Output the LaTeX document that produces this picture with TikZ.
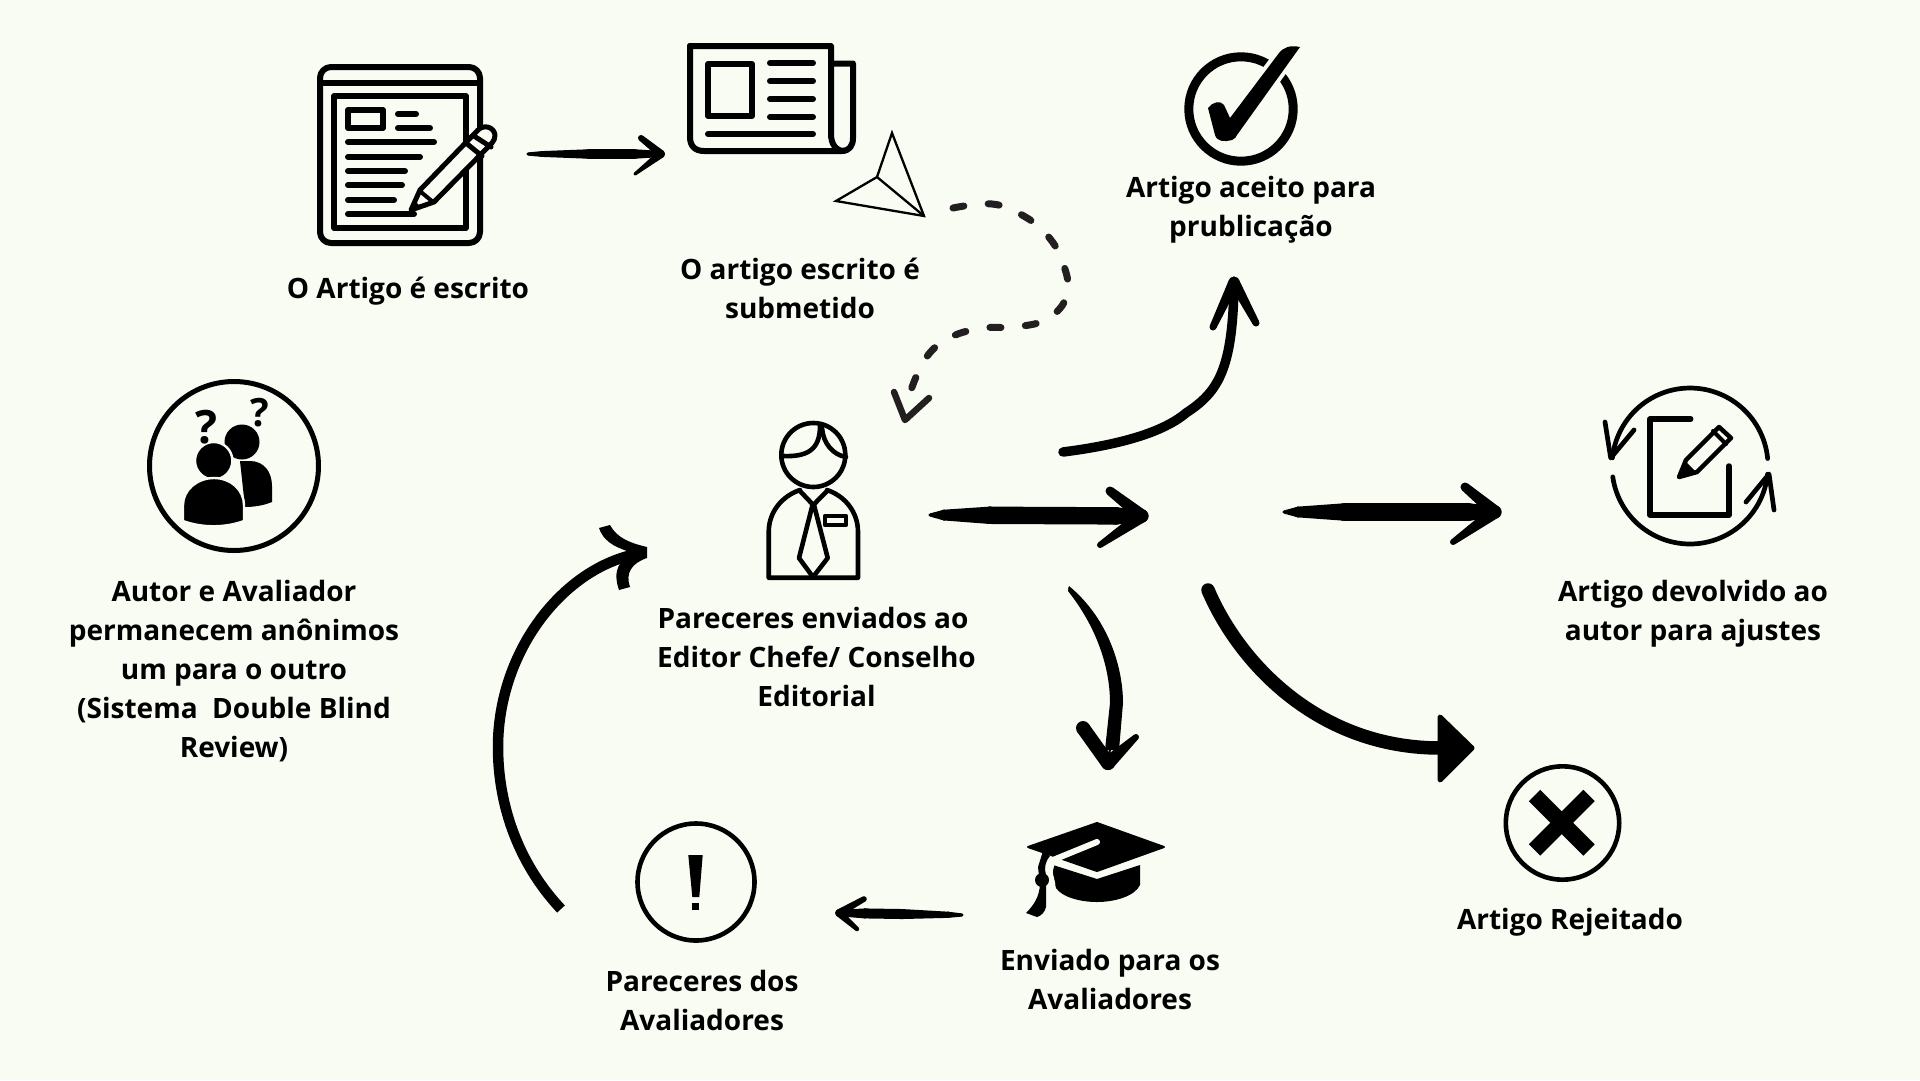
\documentclass[tikz,border=0pt]{standalone}
\usepackage{fontspec}
\setmainfont{Open Sans}
\usetikzlibrary{calc}
\definecolor{bgc}{HTML}{F8FCF3}
\definecolor{dashc}{HTML}{231F20}
\newcommand{\brushseg}[4]{%
  \fill[black] ($(#1)!#3pt!90:(#2)$) -- ($(#2)!#4pt!-90:(#1)$) -- ($(#2)!#4pt!90:(#1)$) -- ($(#1)!#3pt!-90:(#2)$) -- cycle;
  \fill[black] (#1) circle (#3pt);
  \fill[black] (#2) circle (#4pt);
}
% tapered straight shaft: start, end, full half-width
\newcommand{\brushshaft}[3]{%
  \brushseg{#1}{$(#1)!14pt!(#2)$}{1.6}{0.62*#3}
  \brushseg{$(#1)!14pt!(#2)$}{$(#1)!60pt!(#2)$}{0.62*#3}{#3}
  \brushseg{$(#1)!60pt!(#2)$}{$(#2)!26pt!(#1)$}{#3}{#3}
  \brushseg{$(#2)!26pt!(#1)$}{#2}{#3}{0.65*#3}
}
\tikzset{
  lab/.style={align=center,text=black,inner sep=0pt,font=\fontsize{28}{39}\bfseries\selectfont},
  icon/.style={draw=black,line cap=round,line join=round},
  thinlink/.style={draw=black,line width=2pt},
  curvelink/.style={draw=black,line cap=round,line join=round},
}
\begin{document}
\begin{tikzpicture}[x=1pt,y=-1pt]
\useasboundingbox (0,0) rectangle (1920,1080);
\fill[bgc] (0,0) rectangle (1920,1080);

% ---------- labels
\node[lab] (tEscrito) at (408,291) {O Artigo é escrito};
\node[lab] (tSubmetido) at (800,288) {O artigo escrito é\\submetido};
\node[lab] (tAceito) at (1251,210) {Artigo aceito para\\prublicação};
\node[lab] (tAnon) at (234,671.5) {Autor e Avaliador\\permanecem anônimos\\um para o outro\hspace*{9pt}\\(Sistema\ \ Double Blind\\Review)};
\node[lab] (tEditor) at (816.5,657) {Pareceres enviados ao\hspace*{7pt}\\Editor Chefe/ Conselho\\Editorial};
\node[lab] (tDevolvido) at (1693,613.5) {Artigo devolvido ao\\autor para ajustes};
\node[lab] (tRejeitado) at (1570,922) {Artigo Rejeitado};
\node[lab] (tEnviado) at (1110,979) {Enviado para os\\Avaliadores};
\node[lab] (tPareceres) at (702,1000) {Pareceres dos\\Avaliadores};

% ---------- tablet icon
\draw[icon,line width=6pt,rounded corners=11pt] (320,67) rectangle (480,243);
\draw[icon,line width=6pt] (320,83) -- (480,83);
\draw[icon,line width=5.5pt] (334,96) rectangle (466,228);
\draw[icon,line width=6pt] (348,110) rectangle (383,128);
\foreach \xa/\xb/\yy in {398/416/114,398/430/128,348/434/142,348/420/157,348/405/171,348/402/185,348/394/200,348/414/214}
  \draw[icon,line width=6pt] (\xa,\yy) -- (\xb,\yy);
\filldraw[icon,fill=bgc,line width=5pt] (411,210) -- (420,190) -- (478,130) .. controls (484,124) and (494,127) .. (495,135) .. controls (495,138) and (494,141) .. (492,143) -- (434,202) -- cycle;
\draw[icon,line width=5pt] (466,143) -- (482,156);
\draw[icon,line width=5pt] (474,136) -- (491,147);
\draw[icon,line width=4pt] (421,192) -- (433,202);
\fill[black] (408,213) -- (414,200) -- (421,207) -- cycle;

% ---------- newspaper icon
\draw[icon,line width=6pt] (690,46) -- (831,46) -- (831,134) .. controls (831,144) and (836,151) .. (844,151);
\draw[icon,line width=6pt] (690,46) -- (690,137) .. controls (690,146) and (695,151) .. (704,151) -- (842,151) .. controls (849,151) and (853,146) .. (853,138) -- (853,63.5) -- (831,63.5);
\draw[icon,line width=6pt] (708,64) rectangle (752,116);
\foreach \yy in {63,81,99,117}
  \draw[icon,line width=6pt] (770,\yy) -- (813,\yy);
\draw[icon,line width=6pt] (708,134) -- (813,134);

% ---------- paper plane
\draw[icon,line width=2.3pt,line cap=butt,line join=miter] (892,133) -- (924,216) -- (836,201) -- (877,177) -- cycle;
\draw[icon,line width=2.3pt] (877,177) -- (924,216);

% ---------- check icon
\draw[black,line width=9pt] (1241,109) circle (52.2pt);
\path[draw=bgc,fill=black,line width=8pt,line join=round] (1300,47) .. controls (1290,45) and (1284,47) .. (1279,53) -- (1230,118) -- (1224,105) .. controls (1221,100) and (1212,102) .. (1208,108) -- (1215,135) .. controls (1217,142) and (1225,142) .. (1232,140) .. controls (1235,139) and (1236,137) .. (1237,135) -- cycle;
\path[fill=black] (1300,47) .. controls (1290,45) and (1284,47) .. (1279,53) -- (1230,118) -- (1224,105) .. controls (1221,100) and (1212,102) .. (1208,108) -- (1215,135) .. controls (1217,142) and (1225,142) .. (1232,140) .. controls (1235,139) and (1236,137) .. (1237,135) -- cycle;

% ---------- anonymous people icon
\draw[black,line width=5pt] (234,466) circle (84.5pt);
\fill[black] (242,442) circle (17.5pt);
\fill[black] (240,461) -- (250,461) .. controls (264,461) and (272,472) .. (272,486) -- (272,502) .. controls (265,505) and (255,507) .. (245,507) -- cycle;
\path[fill=black,draw=bgc,line width=2.4pt] (213.7,460.7) circle (18.7pt);
\path[fill=black,draw=bgc,line width=2.4pt] (183,521) -- (183,505) .. controls (183,490) and (197,478) .. (214,478) .. controls (231,478) and (244,490) .. (244,505) -- (244,521) .. controls (225,528) and (202,528) .. (183,521) -- cycle;
\node[inner sep=0pt,font=\fontsize{46}{46}\bfseries\selectfont] (qLeft) at (206,427) {?};
\node[inner sep=0pt,font=\fontsize{39}{39}\bfseries\selectfont] (qRight) at (260,413) {?};

% ---------- editor icon
\draw[icon,line width=4.6pt] (813.3,455) circle (32pt);
\draw[icon,line width=4.6pt] (783,456) .. controls (807,457) and (820,450) .. (820,426);
\draw[icon,line width=4.6pt] (822,428) .. controls (823,443) and (833,455) .. (846,457);
\draw[icon,line width=4.6pt] (800,490) .. controls (782,496) and (768.7,512) .. (768.7,532) -- (768.7,577.7) -- (858,577.7) -- (858,532) .. controls (858,512) and (845,496) .. (827,490);
\draw[icon,line width=4.6pt] (800,491) -- (813.3,505) -- (827,491);
\draw[icon,line width=4.6pt] (812.5,505) -- (799,558) -- (813,577) -- (827.7,558) -- (814,505);
\draw[icon,line width=4.4pt] (825,516) rectangle (846,525);

% ---------- returned icon
\draw[icon,line width=4.7pt] plot[domain=5.5:174,samples=60] ({1690+78*cos(\x)},{466-78*sin(\x)});
\draw[icon,line width=4.7pt] plot[domain=188:354,samples=60] ({1690+78*cos(\x)},{466-78*sin(\x)});
\draw[icon,line width=4.7pt] (1605,422) -- (1610.7,458) -- (1634,430);
\draw[icon,line width=4.7pt] (1774,510) -- (1769,474) -- (1746,502);
\draw[icon,line width=5.5pt] (1690.7,419) -- (1650,419) -- (1650,515) -- (1729,515) -- (1729,466);
\draw[icon,line width=4.5pt] (1679,477) -- (1686,460) -- (1719,427) -- (1731,438) -- (1697,472) -- cycle;
\fill[black] (1679,477) -- (1686,462) -- (1695,471) -- cycle;
\draw[icon,line width=4pt] (1713,431) -- (1726,444);

% ---------- rejected icon
\draw[black,line width=4.6pt] (1562.5,823) circle (56.7pt);
\draw[black,line width=16pt] (1534.5,795.5) -- (1589,850);
\draw[black,line width=16pt] (1589,795.5) -- (1534.5,850);

% ---------- cap icon
\fill[black,draw=black,line width=2pt,line join=round] (1097,823) -- (1164,847) -- (1097,871) -- (1028,847) -- cycle;
\fill[black] (1053,865) -- (1097,879) -- (1140,865) -- (1140,885) .. controls (1135,896) and (1115,902) .. (1097,902) .. controls (1080,902) and (1062,897) .. (1056,888) -- (1053,875) -- cycle;
\draw[bgc,line width=6pt,line cap=round] (1097,842) -- (1053,860);
\draw[bgc,line width=5pt] (1053,860) -- (1050,872) -- (1053,885);
\fill[black] (1043,851) -- (1050,856) .. controls (1045,862) and (1044,868) .. (1046,875) -- (1046,907) .. controls (1045,912) and (1041,916) .. (1037,917) -- (1026,913) .. controls (1034,905) and (1039,897) .. (1040,885) -- (1038,867) -- cycle;
\fill[black] (1042,880) circle (7pt);

% ---------- warning icon
\draw[black,line width=4.6pt] (696,882) circle (58.5pt);
\fill[black] (688.3,855) -- (702.7,855) -- (699.3,897) -- (692.3,897) -- cycle;
\fill[black] (692.3,902.7) rectangle (699.3,910);

% ---------- connector ends
\coordinate (c1s) at (528,154);
\coordinate (c1e) at (661,154);
\coordinate (c2s) at (930,515);
\coordinate (c2e) at (1142,516);
\coordinate (c3s) at (1284,512);
\coordinate (c3e) at (1495,512);
\coordinate (c4s) at (962,915);
\coordinate (c4e) at (839,913);
\coordinate (c5s) at (1063,452);
\coordinate (c5m) at (1186,413);
\coordinate (c5e) at (1234,282);
\coordinate (c6s) at (1069,588);
\coordinate (c6e) at (1108,763);
\coordinate (c7s) at (1208,590);
\coordinate (c7e) at (1440,748);
\coordinate (c8s) at (561,909);
\coordinate (c8m) at (498,747);
\coordinate (c8e) at (642,553);
\coordinate (d1) at (953,208);
\coordinate (d2) at (911,390);

% ---------- straight brush arrows
\draw[thinlink] (c1s) -- (c1e);
\brushshaft{c1s}{c1e}{4.7}
\brushseg{641,138}{c1e}{3}{4}
\brushseg{635,174}{c1e}{1.6}{4}

\draw[thinlink] (c2s) -- (c2e);
\brushshaft{c2s}{c2e}{8.7}
\brushseg{1110,491}{c2e}{4.5}{6.5}
\brushseg{1100,545}{c2e}{3}{6.5}

\draw[thinlink] (c3s) -- (c3e);
\brushshaft{c3s}{c3e}{8.7}
\brushseg{1465,487}{c3e}{4.5}{6.5}
\brushseg{1453,542}{c3e}{3}{6.5}

\draw[thinlink] (c4s) -- (c4e);
\brushshaft{c4s}{c4e}{5}
\brushseg{864,899}{c4e}{2.8}{3.8}
\brushseg{857,929}{c4e}{2.2}{3.8}

% ---------- curved arrow to accepted
\draw[curvelink,line width=9.5pt] (c5s) .. controls (1110,446) and (1160,435) .. (c5m) .. controls (1218,392) and (1233,370) .. (c5e);
\brushseg{1213,327}{c5e}{3.5}{5.5}
\brushseg{1256,323}{c5e}{3.5}{5.5}

% ---------- curved tapered arrow to reviewers
\draw[thinlink,line cap=round] (c6s) .. controls (1102,622) and (1117,665) .. (1116.5,703) -- (c6e);
\fill[black] (1069,586) .. controls (1110,620) and (1123,670) .. (1123,703) -- (1119,750) -- (1105,750) -- (1110,703) .. controls (1110,665) and (1095,625) .. (1068,591) -- cycle;
\brushseg{1083,728}{c6e}{7}{7}
\brushseg{1136,737}{c6e}{3}{7}

% ---------- curved arrow to rejected
\draw[curvelink,line width=13.5pt] (c7s) .. controls (1240,665) and (1320,748) .. (c7e);
\filldraw[black,line width=5pt,line join=round] (1440,717) -- (1472,748) -- (1440,780) -- cycle;

% ---------- arc back to editor
\draw[draw=black,line width=10.5pt] (c8s) .. controls (515,860) and (498,800) .. (c8m) .. controls (498,650) and (565,565) .. (c8e);
\fill[black] (599,528) -- (610,525) .. controls (617,538) and (630,543) .. (647,547) -- (647,558) .. controls (632,563) and (625,573) .. (630,587) -- (619,590) .. controls (612,570) and (620,560) .. (632,553) .. controls (620,548) and (605,545) .. (599,528) -- cycle;

% ---------- dashed arrow
\draw[dashc,line width=7pt,line cap=round,dash pattern=on 11pt off 24.5pt] plot[smooth,tension=0.7] coordinates {(d1) (992,204) (1022,215) (1047,235) (1063,263) (1067,295) (1047,319) (1014,327) (984,328) (951,337) (926.5,357) (d2)};
\draw[dashc,line width=6.5pt,line cap=round,line join=round] (894,392) -- (905,420) -- (929,398);
\end{tikzpicture}
\end{document}
